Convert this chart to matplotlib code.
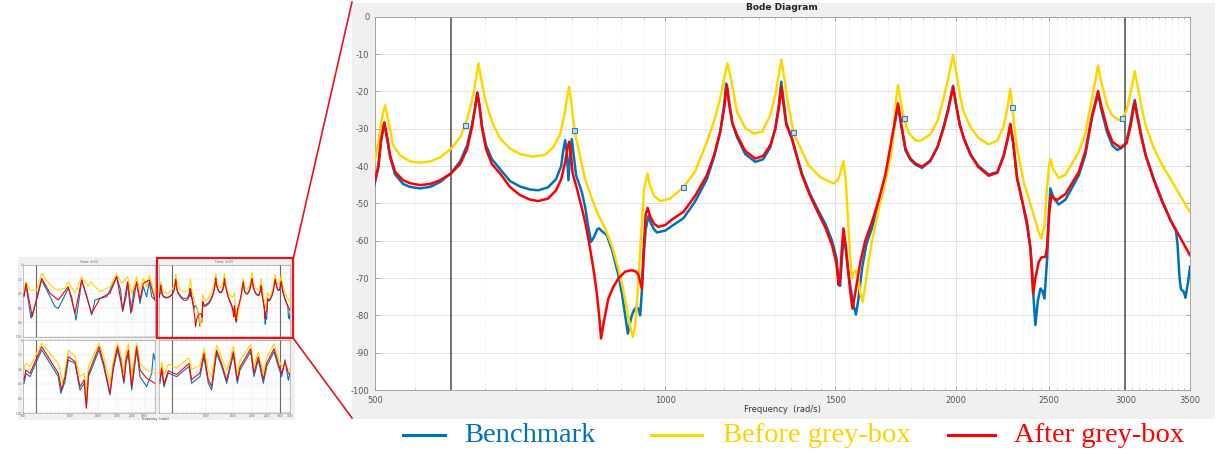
import matplotlib
matplotlib.use("Agg")
import matplotlib.pyplot as plt
from matplotlib.lines import Line2D
from matplotlib.patches import Rectangle
from matplotlib.ticker import FixedLocator, NullFormatter, MultipleLocator

plt.rcParams["axes.unicode_minus"] = False
plt.rcParams["font.family"] = ["DejaVu Sans"]

# ---------------- magnitude responses (rad/s, dB) ----------------
bench_w = [499, 504, 507.2, 511.2, 514.5, 518.2, 524.4, 534.6, 543.6, 556.8, 570.2, 584, 599.5,
           612.6, 622.9, 630.4, 634.9, 638.4, 641.8, 645.7, 651.9, 661.1, 674, 690, 707, 724,
           738.5, 755.9, 770.5, 779.9, 783.6, 787.3, 790.2, 793.6, 796.7, 799.9, 803.4, 808.2,
           819.2, 825.8, 831.6, 837.6, 843.6, 849.7, 853.8, 859.9, 869.6, 880.7, 894, 902.1,
           908.6, 914.5, 918.4, 923.2, 928.3, 934.3, 938.4, 941.7, 945.5, 949.6, 954.2, 960.6,
           966.8, 973.8, 980.1, 1000, 1016.5, 1044.2, 1073.7, 1104.5, 1123.7, 1140, 1149.6,
           1156.5, 1164.8, 1173.6, 1186.8, 1210.4, 1239.7, 1263, 1285, 1300.4, 1311.4, 1319,
           1327, 1335, 1352.5, 1385.6, 1413, 1441.3, 1465.4, 1489, 1504.4, 1511.6, 1518, 1523.4,
           1530, 1536.2, 1543.6, 1555, 1566.2, 1576.3, 1585, 1600.6, 1616, 1637.6, 1663, 1691,
           1711, 1727.4, 1742.8, 1757.2, 1774.1, 1795, 1816.6, 1845.5, 1883, 1914.8, 1943.3,
           1965.2, 1987.8, 2003.5, 2020.3, 2039, 2072, 2112, 2164.5, 2209.6, 2242, 2263.5, 2279,
           2295.4, 2315.8, 2345.2, 2371.7, 2391, 2400.7, 2409.9, 2419.7, 2434.2, 2449, 2460.7,
           2472.5, 2488.5, 2499.2, 2508, 2526, 2558.2, 2600, 2683.7, 2726.4, 2770.2, 2792,
           2810.2, 2829.4, 2871.6, 2907.9, 2940.7, 2971.1, 3007, 3036, 3054.2, 3067.4, 3087.2,
           3117.4, 3147.4, 3207.9, 3275.3, 3341, 3385.2, 3397.3, 3413.6, 3425.1, 3448, 3462.1,
           3484.5, 3500]
bench_db = [-45.3, -40.5, -33.5, -28.5, -32.5, -37.5, -42.2, -44.8, -45.6, -46.0, -45.6, -44.3, -41.9,
            -38.8, -34.5, -28.8, -24.5, -20.5, -24, -29.5, -34.5, -38.2, -40.8, -44.0, -45.5, -46.3,
            -46.5, -45.7, -43.5, -40, -36, -33.1, -36, -43.8, -37, -32.8, -37, -42.5,
            -46.9, -51, -56, -60.3, -59, -57, -56.7, -57.5, -58.5, -62.5, -69.2, -74.5,
            -80, -84.9, -82.5, -80, -78.5, -77.7, -78.5, -80, -73.7, -64, -57, -53.4,
            -55.5, -57, -57.8, -57.3, -56, -54, -49.5, -43.5, -37.5, -31, -24.5,
            -17.9, -23.5, -28.5, -32.3, -36.8, -38.9, -38.2, -35, -30, -23.5, -17.4,
            -23, -28.5, -32.5, -42, -47.5, -52, -55.5, -60, -64.5, -70, -72.1, -66,
            -59.4, -61, -65.5, -72, -77, -79.8, -76, -67, -61, -56.7, -50.5, -43.2,
            -36, -29.5, -23.6, -29.5, -35.8, -38.3, -39.6, -40.5, -38.7, -35, -29.5,
            -24.5, -18.5, -24, -29, -32.3, -36.8, -40, -42.3, -41.6, -37.3, -33, -28.7,
            -34, -43, -49.5, -56, -62, -67.5, -76, -82.6, -76, -72.8, -73.5,
            -75.5, -64.8, -52, -46.0, -48.5, -50.3, -49, -42.5, -37, -27, -23.5,
            -20.8, -24.5, -31, -34.5, -35.7, -35.2, -33.5, -28.5, -24.5, -22.3, -26.5,
            -32, -36.8, -43.3, -49.3, -54.5, -57.5, -61, -70, -73, -73.7, -75.3,
            -71, -67]

before_w = [499, 504, 508, 512, 516, 522, 531, 544, 557, 570, 584, 600, 613, 620, 627.4, 632.4,
            636.5, 640, 645.2, 650.3, 658, 663.2, 674, 690, 707, 729.2, 750.5, 765, 778,
            786.4, 791.1, 794.9, 798.6, 804.9, 816, 825.8, 839, 851.7, 866.1, 880.7, 894,
            904.3, 912.3, 919.5, 925.4, 930.5, 937.2, 944, 950.7, 958.3, 964.5, 973.8, 987.8,
            1011.7, 1044.2, 1073.7, 1104.5, 1126.4, 1140, 1151, 1160, 1169.4, 1186.8, 1210.4,
            1234.7, 1260, 1285, 1300.4, 1311.4, 1319, 1327, 1338, 1357.7, 1380, 1407.6, 1448,
            1494.7, 1511.6, 1521.6, 1530, 1538, 1547.3, 1555, 1561.3, 1568.8, 1576.3, 1585,
            1593, 1601.8, 1612, 1623.7, 1637.6, 1663, 1691, 1711, 1724.5, 1735.7, 1742.8, 1753,
            1766.9, 1786.8, 1816.6, 1838, 1883, 1914.8, 1943.3, 1965.2, 1987.8, 2003.5, 2020.3,
            2039, 2072, 2112, 2164.5, 2209.6, 2242, 2263.5, 2279, 2290, 2312, 2352.5, 2410,
            2437, 2455, 2472.5, 2487.3, 2499.2, 2508, 2526, 2558.2, 2600, 2683.7, 2726.4,
            2770.2, 2792, 2810.2, 2829.4, 2871.6, 2907.9, 2952, 2976, 3007, 3039.6, 3067.4,
            3090.9, 3117.4, 3147.4, 3207.9, 3275.3, 3341, 3407.9, 3500]
before_db = [-39.3, -34, -27.5, -23.7, -27.5, -34.4, -37.2, -38.8, -39.1, -38.8, -37.7, -35.3, -32.2,
             -29.0, -24.5, -20.6, -16.5, -12.5, -17.5, -22, -26.5, -29, -32.6, -35.3, -36.8, -37.5,
             -37, -35, -31.5, -26, -21.5, -18.8, -22.5, -30.4, -37.5, -43.5, -48.7, -53, -56.7,
             -61.5, -67.5, -73, -78.2, -83, -85.8, -83, -72, -58, -46, -42.0, -45.5, -48, -49.4,
             -48.7, -45.7, -41.5, -33.5, -27, -21.9, -16.5, -12.5, -16.5, -25.5, -29.8, -31.3,
             -30.8, -26.4, -21, -15.5, -11.6, -15.5, -22, -31.0, -35, -39.8, -43, -44.7, -43.5,
             -41, -38.7, -43, -55, -64, -70.1, -68.5, -67.9, -70, -74, -76.4, -72, -66, -60.3,
             -52, -44.2, -38, -31.7, -22, -18.3, -22, -27.1, -31, -33.1, -33.3, -31.5, -28,
             -21.9, -16.5, -10.3, -15, -21, -25.5, -29.5, -32.5, -34.2, -33.2, -29.5, -24.5,
             -19.4, -24.3, -34, -44.2, -53.2, -57.5, -59.4, -56, -46, -40, -38.2, -41, -43.2,
             -42.3, -36.2, -31, -21.9, -17, -13.1, -17, -23.7, -26.5, -27.7, -27.2, -25.3, -20,
             -14.6, -19, -24, -29.0, -35, -39.8, -43.5, -47.3, -52.3]

after_w = [499, 504, 507.2, 511.2, 514.5, 518.2, 524.4, 534.6, 543.6, 556.8, 570.2, 584, 599.5,
           612.6, 622.9, 630.4, 634.9, 638.4, 641.8, 645.7, 651.9, 661.1, 674, 690, 707, 724,
           738.5, 755.9, 770.5, 779.9, 787.3, 792.1, 794.9, 797.7, 801.5, 809.6, 817.9, 825.8,
           833.6, 842.2, 848.7, 853.8, 857.8, 863, 868.2, 872.9, 882.8, 894, 908.6, 923.2,
           932.8, 937.9, 945.5, 950.7, 954.2, 958.7, 964.5, 973.8, 983.8, 1000, 1016.5, 1044.2,
           1073.7, 1104.5, 1123.7, 1140, 1151, 1158.4, 1166.2, 1173.6, 1186.8, 1210.4, 1239.7,
           1263, 1285, 1300.4, 1311.4, 1319, 1327, 1335, 1352.5, 1385.6, 1413, 1441.3, 1465.4,
           1489, 1504.4, 1512.7, 1518, 1523.4, 1530, 1538, 1546.2, 1555, 1563.6, 1573.7, 1593,
           1612, 1637.6, 1663, 1691, 1711, 1727.4, 1742.8, 1757.2, 1774.1, 1795, 1816.6,
           1845.5, 1883, 1914.8, 1943.3, 1965.2, 1987.8, 2003.5, 2020.3, 2039, 2072, 2112,
           2164.5, 2209.6, 2242, 2263.5, 2279, 2295.4, 2315.8, 2345.2, 2371.7, 2391, 2406.5,
           2419.7, 2438.9, 2455, 2478.4, 2487.3, 2502.2, 2514, 2526, 2548.5, 2600, 2683.7,
           2726.4, 2770.2, 2792, 2810.2, 2829.4, 2871.6, 2907.9, 2964, 3007, 3036, 3054.2,
           3067.4, 3087.2, 3117.4, 3147.4, 3207.9, 3275.3, 3341, 3407.9, 3500]
after_db = [-44.7, -40, -33, -28.3, -32, -37, -41.5, -43.8, -44.6, -45.1, -44.8, -43.8, -42.0,
            -39.5, -35.5, -29.5, -24.5, -20.3, -24, -30, -35.5, -39.5, -42, -45.6, -47.8, -49.0,
            -49.4, -48.7, -46.5, -43.5, -39, -35, -33.5, -36, -42, -46.0, -50.5, -55,
            -60.5, -67.5, -73.5, -80, -86.2, -82, -78.5, -75.5, -72.5, -70.1, -68.3, -67.9,
            -68.3, -69.2, -72.8, -60, -53, -51.2, -53.5, -55.5, -56.3, -55.8, -54.3, -52.3,
            -48, -42.4, -37, -30.8, -24.5, -18.3, -24, -28.5, -31.7, -36, -38.0,
            -37.3, -34.4, -30, -24.5, -18.8, -24, -29, -32.6, -42.4, -48, -52.7, -56.5,
            -61.2, -66, -71.9, -70, -63, -56.7, -61, -67.5, -73.5, -78.2, -74, -65.7,
            -60, -55, -49.5, -42.4, -35, -29, -23.2, -29, -35.3, -38, -39.3,
            -40.2, -38.5, -35, -29.9, -25, -18.8, -24, -29, -32.6, -37, -40.3,
            -42.6, -41.8, -37.5, -33, -28.9, -34, -43.3, -49.5, -55, -62, -74.2,
            -70, -65.7, -64.5, -64.3, -62, -52, -47.8, -48.5, -49.1, -47.5, -41.6,
            -36, -26.4, -23, -19.9, -23.5, -29.9, -33.5, -35.1, -34, -29.5, -25.5,
            -22.9, -27, -32.5, -37.1, -43.5, -49.6, -54.5, -58.5, -63.9]

# data-tip squares sitting on the "before" curve
tip_w = [620, 804.9, 1044.2, 1357.7, 1766.9, 2290, 2976]
tip_db = [-29.0, -30.4, -45.7, -31.0, -27.1, -24.3, -27.2]

# ---------------- overview panels (other input/output channels) ----------------
tl_bench_w = [505, 520, 560, 609, 656, 742, 798, 839, 972, 1021, 1089, 1155, 1184, 1262, 1373, 1442,
              1553, 1713, 1986, 2107, 2170, 2280, 2337, 2443, 2566, 2669, 2804, 2946, 3094, 3219,
              3332, 3500]
tl_bench_db = [-41.9, -27.9, -74.4, -48.8, -20.9, -44.2, -58.1, -60.5, -32.6, -44.2, -76.7, -39.5,
               -20.9, -39.5, -69.8, -48.8, -46.5, -44.2, -16.3, -34.9, -65.1, -44.2, -25.6, -67.4,
               -34.9, -25.6, -53.5, -30.2, -44.2, -23.3, -44.2, -48.8]
tl_after_w = [505, 520, 571, 609, 656, 742, 839, 972, 1073, 1184, 1373, 1553, 1800, 1986, 2170, 2337,
              2480, 2669, 2804, 2946, 3219, 3500]
tl_after_db = [-44.2, -25.6, -72.1, -46.5, -18.6, -39.5, -48.8, -30.2, -67.4, -20.9, -67.4, -46.5,
               -39.5, -16.3, -62.8, -23.3, -65.1, -23.3, -48.8, -25.6, -20.9, -48.8]
tl_before_w = [505, 520, 552, 609, 656, 742, 818, 926, 972, 1073, 1184, 1307, 1352, 1553, 1800, 1986,
               2139, 2337, 2480, 2669, 2804, 2946, 3094, 3219, 3500]
tl_before_db = [-37.2, -23.3, -34.9, -34.9, -11.6, -27.9, -34.9, -32.6, -23.3, -39.5, -16.3, -30.2,
                -23.3, -37.2, -30.2, -11.6, -25.6, -16.3, -39.5, -16.3, -34.9, -18.6, -30.2, -13.9,
                -41.9]

bl_bench_w = [505, 520, 552, 656, 742, 839, 870, 926, 972, 1073, 1155, 1230, 1270, 1310, 1530, 1640,
              1800, 1890, 2010, 2107, 2210, 2280, 2360, 2480, 2669, 2804, 3094, 3332, 3420, 3500]
bl_bench_db = [-59.1, -45.5, -50, -13.6, -31.8, -50, -72.7, -56.8, -27.3, -31.8, -68.2, -59.1, -90.9,
               -50, -13.6, -36.4, -75, -40.9, -13.6, -31.8, -59.1, -31.8, -18.2, -68.2, -13.6, -50,
               -63.6, -45.5, -18.2, -27.3]
bl_after_w = [505, 520, 552, 656, 742, 839, 880, 926, 972, 1073, 1155, 1230, 1270, 1310, 1530, 1640,
              1800, 1890, 2010, 2107, 2210, 2280, 2360, 2480, 2669, 2804, 3094, 3500]
bl_after_db = [-54.5, -40.9, -45.5, -9.1, -27.3, -45.5, -68.2, -50, -22.7, -29.5, -63.6, -54.5, -93.2,
               -45.5, -9.1, -31.8, -72.7, -36.4, -9.1, -27.3, -56.8, -27.3, -13.6, -63.6, -9.1, -40.9,
               -52.3, -59.1]
bl_before_w = [505, 520, 552, 656, 742, 839, 900, 972, 1073, 1155, 1230, 1270, 1310, 1530, 1640, 1800,
               1890, 2010, 2107, 2210, 2280, 2360, 2480, 2669, 2804, 3094, 3500]
bl_before_db = [-40.9, -31.8, -36.4, -4.5, -18.2, -31.8, -59.1, -13.6, -22.7, -50, -45.5, -75, -36.4,
                -4.5, -22.7, -59.1, -27.3, -4.5, -18.2, -45.5, -18.2, -4.5, -50, -4.5, -31.8, -40.9,
                -45.5]

br_bench_w = [505, 518, 536, 572, 647, 778, 809, 916, 972, 1037, 1090, 1174, 1265, 1363, 1505, 1597,
              1662, 1948, 2048, 2184, 2353, 2473, 2758, 2942, 3091, 3249, 3414, 3500]
br_bench_db = [-59, -41, -64, -45, -50, -36, -59, -50, -23, -59, -68, -18, -36, -59, -20, -59, -41,
               -16, -50, -27, -59, -36, -16, -36, -50, -27, -55, -45]
br_after_w = [505, 518, 536, 572, 647, 778, 809, 916, 972, 1037, 1090, 1174, 1265, 1363, 1505, 1597,
              1662, 1948, 2048, 2184, 2353, 2473, 2758, 2942, 3091, 3249, 3414, 3500]
br_after_db = [-55, -38, -60, -42, -47, -32, -54, -45, -18, -54, -63, -14, -32, -55, -16, -55, -37,
               -12, -45, -23, -54, -32, -12, -32, -46, -30, -45, -48]
br_before_w = [505, 518, 536, 572, 647, 778, 809, 916, 972, 1037, 1090, 1174, 1265, 1363, 1505, 1597,
               1662, 1948, 2048, 2184, 2353, 2473, 2758, 2942, 3091, 3249, 3414, 3500]
br_before_db = [-45, -30, -48, -33, -38, -24, -40, -35, -11, -42, -50, -7, -24, -42, -9, -45, -28,
                -6, -36, -16, -45, -24, -5, -25, -36, -32, -40, -42]

x_ticks = [500, 1000, 1500, 2000, 2500, 3000, 3500]
x_tick_labels = ["500", "1000", "1500", "2000", "2500", "3000", "3500"]
markers_w = [600, 3000]

legend_labels = ["Benchmark", "Before grey-box", "After grey-box"]
c_bench = "#0072BD"
c_before = "#FFD700"
c_after = "#FF0000"
legend_text_colors = ["#0070C0", "#FFD200", "#FF0000"]

W, H = 1227, 454
fig = plt.figure(figsize=(W / 100, H / 100), dpi=100)
fig.patch.set_facecolor("white")


def fx(x):
    return x / W


def fy(y):
    return 1 - y / H


def fig_rect(x0, y0, x1, y1, **kw):
    fig.patches.append(Rectangle((fx(x0), fy(y1)), (x1 - x0) / W, (y1 - y0) / H,
                                 transform=fig.transFigure, **kw))


def fig_line(xs, ys, **kw):
    fig.lines.append(Line2D([fx(v) for v in xs], [fy(v) for v in ys],
                            transform=fig.transFigure, **kw))


# window backgrounds (behind every axes)
fig_rect(352, 3, 1215, 419, facecolor="#f0f0f0", edgecolor="none", zorder=-5)
fig_rect(18, 257, 295, 420, facecolor="#f0f0f0", edgecolor="none", zorder=-5)

minor_w = [w for w in range(550, 3500, 50) if w % 500 != 0]


def style_axes(ax, small=False):
    ax.set_xscale("log")
    ax.set_xlim(500, 3500)
    ax.set_ylim(-100, 0)
    ax.xaxis.set_major_locator(FixedLocator(x_ticks))
    ax.xaxis.set_minor_locator(FixedLocator(minor_w))
    ax.xaxis.set_minor_formatter(NullFormatter())
    ax.set_xticklabels(x_tick_labels)
    ax.set_facecolor("white")
    for s in ax.spines.values():
        s.set_color("#9a9a9a")
        s.set_linewidth(0.6 if not small else 0.4)
    ax.grid(which="major", color="#e2e2e2", lw=0.7 if not small else 0.3)
    ax.grid(which="minor", axis="x", color="#e6e6e6", lw=0.5 if not small else 0.25, ls=":")
    ax.set_axisbelow(True)


# ---------------- main Bode magnitude plot ----------------
ax = fig.add_axes([fx(375), fy(390), (1190 - 375) / W, (390 - 16.7) / H])
style_axes(ax)
ax.yaxis.set_major_locator(MultipleLocator(10))
ax.tick_params(which="major", direction="in", top=True, right=True, length=3, width=0.5,
               color="#8a8a8a", labelsize=6, labelcolor="#555555", pad=4)
ax.tick_params(which="minor", direction="in", top=True, length=1.6, width=0.4, color="#9a9a9a")
for w in markers_w:
    ax.axvline(w, color="#5a5a5a", lw=1.2, zorder=1)
ax.plot(bench_w, bench_db, color=c_bench, lw=1.8, zorder=3, solid_joinstyle="round")
ax.plot(before_w, before_db, color=c_before, lw=1.8, zorder=4, solid_joinstyle="round")
ax.plot(after_w, after_db, color=c_after, lw=1.8, zorder=5, solid_joinstyle="round")
ax.plot(tip_w, tip_db, ls="none", marker="s", ms=3.6, mfc="#bfe3f5", mec="#3d78b0", mew=0.8, zorder=6)

fig.text(fx(782), fy(7.5), "Bode Diagram", ha="center", va="center", fontsize=6.5,
         fontweight="bold", color="#222222")
fig.text(fx(782), fy(410), "Frequency  (rad/s)", ha="center", va="center", fontsize=6,
         color="#333333")

# ---------------- overview of all four channels ----------------
panels = [
    ((23.3, 265, 155, 336.7), (tl_bench_w, tl_bench_db), (tl_before_w, tl_before_db), (tl_after_w, tl_after_db), [600], "From: In(1)"),
    ((159.3, 265, 290, 336.7), (bench_w, bench_db), (before_w, before_db), (after_w, after_db), [600, 3000], "From: In(2)"),
    ((23.3, 340, 155, 413.3), (bl_bench_w, bl_bench_db), (bl_before_w, bl_before_db), (bl_after_w, bl_after_db), [600], None),
    ((159.3, 340, 290, 413.3), (br_bench_w, br_bench_db), (br_before_w, br_before_db), (br_after_w, br_after_db), [600, 3000], None),
]
for i, (box, b, y, r, vl, ttl) in enumerate(panels):
    x0, y0, x1, y1 = box
    a = fig.add_axes([fx(x0), fy(y1), (x1 - x0) / W, (y1 - y0) / H])
    style_axes(a, small=True)
    a.yaxis.set_major_locator(MultipleLocator(20))
    a.tick_params(which="both", direction="in", top=True, right=True, length=1, width=0.3,
                  color="#999999", labelsize=2.0, labelcolor="#666666", pad=0.8)
    if i < 2:
        a.set_xticklabels([])
    else:
        a.set_xticklabels(["500", "1000", "1500", "2000", "2500", "3000", ""] if i == 2
                          else [""] + x_tick_labels[1:])
    if i % 2 == 1:
        a.set_yticklabels([])
    for w in vl:
        a.axvline(w, color="#6a6a6a", lw=0.8, zorder=1)
    a.plot(b[0], b[1], color=c_bench, lw=0.8, zorder=3)
    a.plot(y[0], y[1], color=c_before, lw=0.8, zorder=4)
    a.plot(r[0], r[1], color=c_after, lw=0.8, zorder=5)
    if ttl:
        a.set_title(ttl, fontsize=2.4, color="#666666", pad=1.2)
fig.text(fx(156), fy(419.3), "Frequency  (rad/s)", ha="center", va="center", fontsize=2.2,
         color="#444444")

# zoom frame and connectors
fig_rect(156.7, 258.3, 293.3, 338.3, facecolor="none", edgecolor="#e8141c", lw=1.6, zorder=10)
fig_line([293.3, 352], [258.3, 2], color="#e8141c", lw=1.2, zorder=10)
fig_line([293.3, 352], [338.3, 418], color="#e8141c", lw=1.2, zorder=10)

# ---------------- legend ----------------
legend_lines = [(403, 445, 464), (651, 702, 723), (948, 995, 1014)]
for (l0, l1, tx), lab, lc, tc in zip(legend_lines, legend_labels, [c_bench, c_before, c_after],
                                     legend_text_colors):
    fig_line([l0, l1], [434.5, 434.5], color=lc, lw=2.2, zorder=10)
    fig.text(fx(tx), fy(436), lab, ha="left", va="center", fontsize=20.5,
             family="Liberation Serif", color=tc)

fig.savefig("out.png", dpi=100, facecolor="white")
